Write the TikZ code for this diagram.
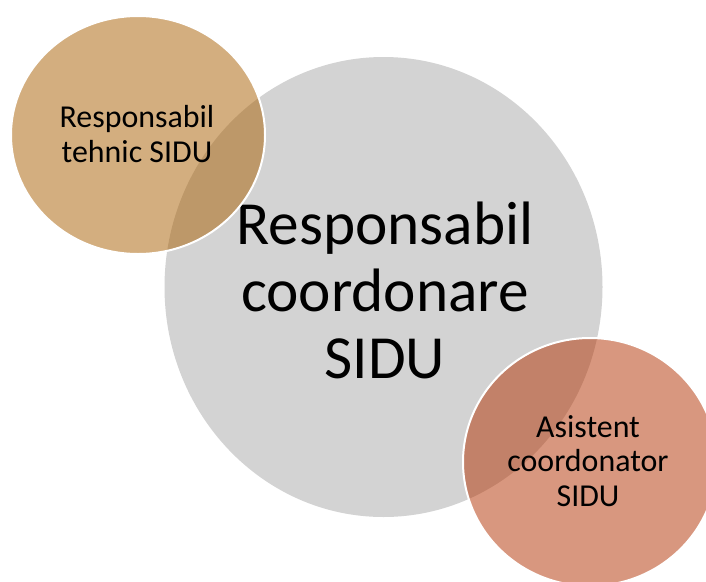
\documentclass[tikz,border=0pt]{standalone}
\usepackage{fontspec}
\setmainfont{Carlito}
\definecolor{graycirc}{RGB}{211,211,211}
\definecolor{tanbase}{RGB}{169,95,1}
\definecolor{salmonbase}{RGB}{179,49,0}
\tikzset{
  smallbubble/.style={fill opacity=0.5, draw=white, draw opacity=1, line width=2pt},
  bigtext/.style={inner sep=0pt, align=center, font=\fontsize{61.3}{67}\selectfont},
  smalltext/.style={inner sep=0pt, align=center, font=\fontsize{31.9}{34.5}\selectfont},
}
\begin{document}
\begin{tikzpicture}[x=1pt,y=-1pt]
\useasboundingbox (0,0) rectangle (706,581);
\clip (0,0) rectangle (706,581);
\fill[white] (0,0) rectangle (706,581);
% big grey bubble
\fill[graycirc] (383.5,287) ellipse [x radius=219pt, y radius=230pt];
\node[bigtext] (main) at (385,290) {Responsabil\\coordonare\\SIDU};
% top-left bubble
\path[smallbubble, fill=tanbase] (138,135) ellipse [x radius=127pt, y radius=119pt];
\node[smalltext] (tech) at (137,134) {Responsabil\\tehnic SIDU};
% bottom-right bubble
\path[smallbubble, fill=salmonbase] (590,462) ellipse [x radius=127pt, y radius=124pt];
\node[smalltext] (asist) at (588,461) {Asistent\\coordonator\\SIDU};
\end{tikzpicture}
\end{document}
